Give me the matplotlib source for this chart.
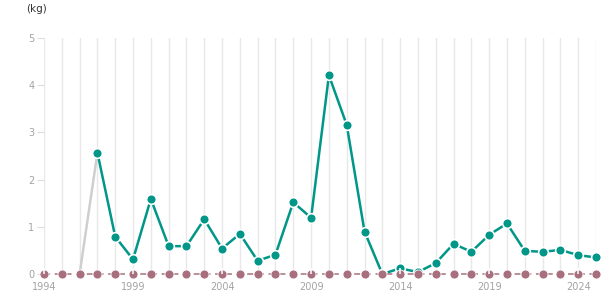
import numpy as np
import matplotlib
matplotlib.use("Agg")
import matplotlib.pyplot as plt

# ----- data -----
years = list(range(1994, 2026))
# teal series starts in 1997
teal_years = list(range(1997, 2026))
teal_vals = [2.57, 0.79, 0.31, 1.59, 0.59, 0.59, 1.16, 0.54, 0.85, 0.28,
             0.41, 1.52, 1.19, 4.21, 3.16, 0.90, 0.0, 0.12, 0.04, 0.23,
             0.64, 0.47, 0.83, 1.07, 0.49, 0.47, 0.51, 0.40, 0.35]
# grey connector from the last zero year into the first teal point
grey_years = [1996, 1997]
grey_vals = [0.0, 2.57]
# mauve baseline series: zero every year
zero_vals = [0.0] * len(years)

tick_years = [1994, 1999, 2004, 2009, 2014, 2019, 2024]
y_ticks = [0, 1, 2, 3, 4, 5]

TEAL = "#009688"
MAUVE = "#a8707f"
GREY = "#cfcfcf"
LABEL_C = "#a3a3a3"

fig = plt.figure(figsize=(6.15, 3.05), dpi=100)
ax = fig.add_axes([44 / 615, 31 / 305, 552 / 615, 236 / 305])

ax.set_xlim(1994, 2025)
ax.set_ylim(0, 5)

# vertical grid at each year, labels only every five years
ax.set_xticks(years)
ax.set_xticklabels([str(y) if y in tick_years else "" for y in years])
ax.grid(True, axis="x", color="#e8e8e8", lw=1)
ax.set_axisbelow(True)

ax.plot(grey_years, grey_vals, color=GREY, lw=1.8, zorder=2, clip_on=False)
ax.plot(teal_years, teal_vals, color=TEAL, lw=1.8, marker="o", ms=7,
        mfc=TEAL, mec="white", mew=1.2, zorder=3, clip_on=False)
ax.plot(years, zero_vals, color=MAUVE, lw=1.1, ls=(0, (4, 3)), marker="o",
        ms=6.5, mfc=MAUVE, mec="white", mew=0.6, zorder=4, clip_on=False)
# small white tick marks over the labelled years
ax.plot(tick_years, [0] * len(tick_years), ls="none", marker=2, ms=4.5,
        mec="white", mew=1.1, zorder=5, clip_on=False)

ax.set_yticks(y_ticks)
ax.set_yticklabels([str(v) for v in y_ticks])
ax.tick_params(axis="x", length=0, pad=6, labelsize=7, labelcolor=LABEL_C)
ax.tick_params(axis="y", length=5, width=0.8, color="#dddddd", pad=2,
               labelsize=7, labelcolor=LABEL_C)

for s in ax.spines.values():
    s.set_visible(False)

fig.text(26 / 615, 1 - 9 / 305, "(kg)", fontsize=7.5, color="#333333",
         va="center", ha="left")

fig.savefig("out.png", dpi=100)
